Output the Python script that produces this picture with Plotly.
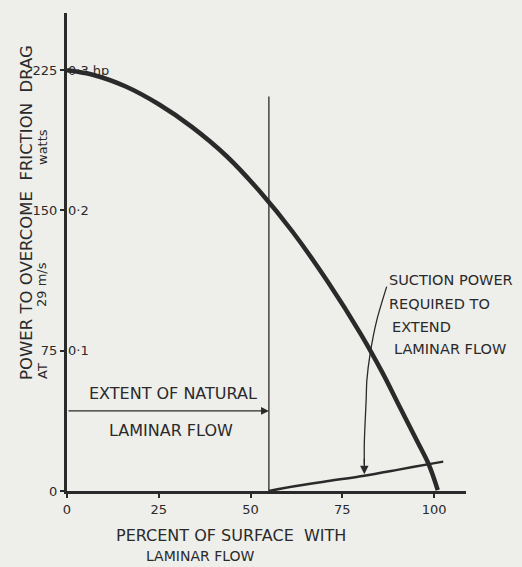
import plotly.graph_objects as go

# ---- data ----
drag_x = [0, 7, 16, 25, 34, 43.5, 52.6, 61.5, 71, 80, 86, 90, 95.3, 98.6, 101]
drag_y = [225, 222.6, 216.3, 206.8, 194.7, 179, 160, 138.5, 112, 84, 63, 47.5, 27, 14, 0.5]

suction_x = [55, 62, 70, 81, 90, 99, 102.5]
suction_y = [0, 2.5, 5, 8.2, 11.3, 14.5, 15.7]

pointer_x = [87.1, 84.4, 82.6, 81.7, 81.5, 81.0, 81.0]
pointer_y = [109.3, 91.4, 73.6, 59.4, 48.8, 25.7, 14]
pointer_tip = (81.0, 9.0)

natural_extent = 55
natural_line_top = 211
natural_arrow_y = 42.8

x_ticks = [0, 25, 50, 75, 100]
y_ticks = [0, 75, 150, 225]
hp_ticks = [75, 150, 225]
hp_labels = ["0·1", "0·2", "0·3 hp"]

x_range = [0, 108.7]
y_range = [0, 255.6]

INK = "#2a2a2a"
PAPER = "#eeeeeb"
FONT = "DejaVu Sans"

W, H = 522, 567
L, R, T, B = 67, 56, 13, 76
PW, PH = W - L - R, H - T - B


def px_to_paper_x(px):
    return (px - L) / PW


def px_to_paper_y(py):
    return (H - B - py) / PH


fig = go.Figure()

fig.add_trace(go.Scatter(x=drag_x, y=drag_y, mode="lines",
                         line=dict(color=INK, width=4.5, shape="spline", smoothing=1.0),
                         hoverinfo="skip", showlegend=False))
fig.add_trace(go.Scatter(x=suction_x, y=suction_y, mode="lines",
                         line=dict(color=INK, width=2.5, shape="spline", smoothing=0.8),
                         hoverinfo="skip", showlegend=False))
fig.add_trace(go.Scatter(x=[natural_extent, natural_extent], y=[0, natural_line_top], mode="lines",
                         line=dict(color=INK, width=1.3), hoverinfo="skip", showlegend=False))
fig.add_trace(go.Scatter(x=pointer_x, y=pointer_y, mode="lines",
                         line=dict(color=INK, width=1.3, shape="spline", smoothing=0.8),
                         hoverinfo="skip", showlegend=False))
fig.add_trace(go.Scatter(x=[0], y=[0], yaxis="y2", mode="markers",
                         marker=dict(opacity=0), hoverinfo="skip", showlegend=False))

ann = []
ann.append(dict(x=pointer_tip[0], y=pointer_tip[1], ax=pointer_x[-1], ay=pointer_y[-1] + 4,
                xref="x", yref="y", axref="x", ayref="y", text="", showarrow=True,
                arrowhead=2, arrowsize=1.3, arrowwidth=1.3, arrowcolor=INK))
ann.append(dict(x=natural_extent, y=natural_arrow_y, ax=0, ay=natural_arrow_y,
                xref="x", yref="y", axref="x", ayref="y", text="", showarrow=True,
                arrowhead=2, arrowsize=1.2, arrowwidth=1.3, arrowcolor=INK))

txt = dict(family=FONT, size=16, color=INK)
ann.append(dict(x=29, y=52.4, xref="x", yref="y", text="EXTENT OF NATURAL",
                showarrow=False, font=txt, xanchor="center", yanchor="middle"))
ann.append(dict(x=28.3, y=32.6, xref="x", yref="y", text="LAMINAR FLOW",
                showarrow=False, font=txt, xanchor="center", yanchor="middle"))

suction_lines = ["SUCTION POWER", "REQUIRED TO", "EXTEND", "LAMINAR FLOW"]
suction_line_y = [112.8, 100.0, 87.7, 75.9]
suction_line_x = [87.2, 87.2, 88.0, 88.5]
stxt = dict(family=FONT, size=14.5, color=INK)
for t, xx, yy in zip(suction_lines, suction_line_x, suction_line_y):
    ann.append(dict(x=xx, y=yy, xref="x", yref="y", text=t, showarrow=False,
                    font=stxt, xanchor="left", yanchor="middle"))

ann.append(dict(x=px_to_paper_x(231), y=px_to_paper_y(535), xref="paper", yref="paper",
                text="PERCENT OF SURFACE  WITH",
                showarrow=False, font=dict(family=FONT, size=16, color=INK),
                xanchor="center", yanchor="middle"))
ann.append(dict(x=px_to_paper_x(200), y=px_to_paper_y(556), xref="paper", yref="paper",
                text="LAMINAR FLOW",
                showarrow=False, font=dict(family=FONT, size=14, color=INK),
                xanchor="center", yanchor="middle"))

ann.append(dict(x=px_to_paper_x(26), y=px_to_paper_y(213), xref="paper", yref="paper",
                text="POWER TO OVERCOME  FRICTION  DRAG", textangle=-90,
                showarrow=False, font=dict(family=FONT, size=16.5, color=INK),
                xanchor="center", yanchor="middle"))
small = dict(family=FONT, size=13, color=INK)
col2 = px_to_paper_x(42)
ann.append(dict(x=col2, y=px_to_paper_y(147), xref="paper", yref="paper", text="watts",
                textangle=-90, showarrow=False, font=small, xanchor="center", yanchor="middle"))
ann.append(dict(x=col2, y=px_to_paper_y(285), xref="paper", yref="paper", text="29 m/s",
                textangle=-90, showarrow=False, font=small, xanchor="center", yanchor="middle"))
ann.append(dict(x=col2, y=px_to_paper_y(371), xref="paper", yref="paper", text="AT",
                textangle=-90, showarrow=False, font=small, xanchor="center", yanchor="middle"))

fig.update_layout(
    width=W, height=H, autosize=False,
    margin=dict(l=L, r=R, t=T, b=B),
    paper_bgcolor=PAPER, plot_bgcolor=PAPER,
    font=dict(family=FONT, size=13, color=INK),
    annotations=ann,
    xaxis=dict(range=x_range, tickmode="array", tickvals=x_ticks,
               ticktext=[str(v) for v in x_ticks],
               showline=True, linecolor=INK, linewidth=3,
               ticks="outside", ticklen=4, tickwidth=2, tickcolor=INK,
               showgrid=False, zeroline=False, tickfont=dict(size=13),
               fixedrange=True),
    yaxis=dict(range=y_range, tickmode="array", tickvals=y_ticks,
               ticktext=[str(v) for v in y_ticks],
               showline=True, linecolor=INK, linewidth=3,
               ticks="outside", ticklen=4, tickwidth=2, tickcolor=INK,
               showgrid=False, zeroline=False, tickfont=dict(size=13),
               fixedrange=True),
    yaxis2=dict(range=y_range, overlaying="y", side="right", anchor="free", position=0,
                tickmode="array", tickvals=hp_ticks, ticktext=hp_labels,
                ticks="", showline=False,
                showgrid=False, zeroline=False, tickfont=dict(size=13),
                fixedrange=True),
)

fig.write_html("out.html",
               config={"displayModeBar": False},
               post_script="document.body.style.margin='0';document.body.style.overflow='hidden';")
